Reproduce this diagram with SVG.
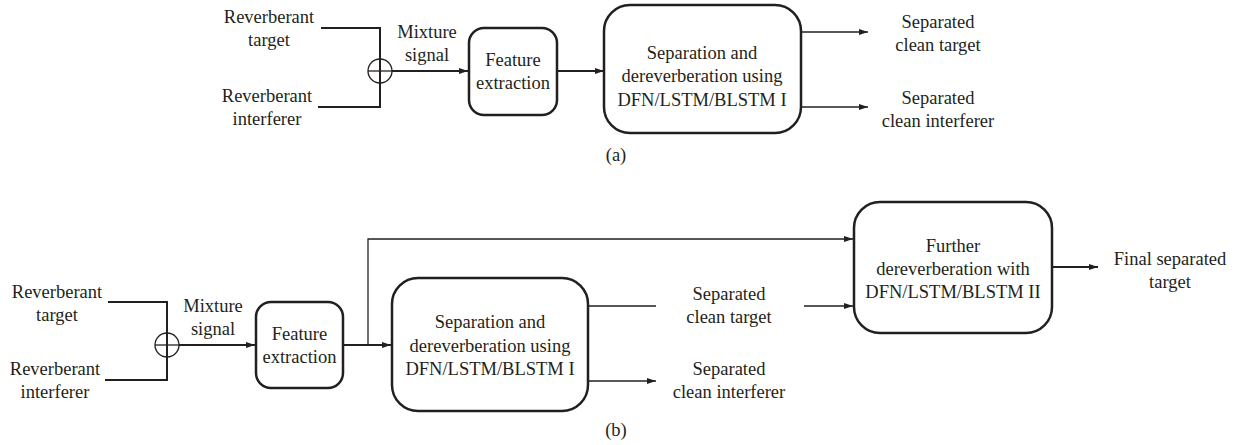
<svg xmlns="http://www.w3.org/2000/svg" width="1240" height="445" viewBox="0 0 1240 445">
<style>
text{font-family:"Liberation Serif","Times New Roman",serif;font-size:18.5px;fill:#231f20;text-anchor:middle}
.box{fill:#fff;stroke:#231f20;stroke-width:2.5}
.ln{fill:none;stroke:#231f20;stroke-width:2}
.thin{fill:none;stroke:#231f20;stroke-width:1.3}
</style>
<defs>
<marker id="ah" markerUnits="userSpaceOnUse" markerWidth="10" markerHeight="8" refX="9" refY="4" orient="auto">
<path d="M0,1 L9,4 L0,7 Z" fill="#231f20"/>
</marker>
</defs>
<g id="connectors">
<path class="ln" d="M321,28 H380 V107 H318"/>
<circle class="thin" cx="380" cy="71" r="12"/>
<line class="thin" x1="368" y1="71" x2="392" y2="71"/>
<line class="ln" x1="392" y1="71" x2="468" y2="71" marker-end="url(#ah)"/>
<line class="ln" x1="557" y1="71" x2="604" y2="71" marker-end="url(#ah)"/>
<line class="thin" x1="801" y1="32" x2="868" y2="32" marker-end="url(#ah)"/>
<line class="thin" x1="801" y1="107" x2="868" y2="107" marker-end="url(#ah)"/>
<path class="ln" d="M108,302 H167 V380 H105"/>
<circle class="thin" cx="167" cy="345" r="12"/>
<line class="thin" x1="155" y1="345" x2="179" y2="345"/>
<line class="ln" x1="179" y1="345" x2="255" y2="345" marker-end="url(#ah)"/>
<line class="ln" x1="343" y1="345" x2="391" y2="345" marker-end="url(#ah)"/>
<path class="thin" d="M368,345 V239 H853" marker-end="url(#ah)"/>
<line class="thin" x1="588" y1="306" x2="656" y2="306"/>
<line class="thin" x1="804" y1="306" x2="853" y2="306" marker-end="url(#ah)"/>
<line class="thin" x1="588" y1="381" x2="656" y2="381" marker-end="url(#ah)"/>
<line class="ln" x1="1052" y1="267" x2="1098" y2="267" marker-end="url(#ah)"/>
</g>
<g id="a-inputs">
<text x="269" y="23">Reverberant</text><text x="269" y="46">target</text>
<text x="267" y="102">Reverberant</text><text x="267" y="125">interferer</text>
<text x="427" y="38">Mixture</text><text x="427" y="61">signal</text>
</g>
<g id="a-feature">
<rect class="box" x="469" y="28" width="88" height="87" rx="15"/>
<text x="513" y="66">Feature</text><text x="513" y="89">extraction</text>
</g>
<g id="a-separation">
<rect class="box" x="604" y="5" width="197" height="128" rx="26"/>
<text x="702" y="59">Separation and</text>
<text x="702" y="82">dereverberation using</text>
<text x="702" y="106">DFN/LSTM/BLSTM I</text>
</g>
<g id="a-outputs">
<text x="938" y="28">Separated</text><text x="938" y="51">clean target</text>
<text x="938" y="104">Separated</text><text x="938" y="127">clean interferer</text>
</g>
<text x="616" y="161">(a)</text>
<g id="b-inputs">
<text x="57" y="298">Reverberant</text><text x="57" y="321">target</text>
<text x="55" y="375">Reverberant</text><text x="55" y="398">interferer</text>
<text x="213" y="312">Mixture</text><text x="213" y="335">signal</text>
</g>
<g id="b-feature">
<rect class="box" x="256" y="302" width="87" height="86" rx="15"/>
<text x="299.5" y="340">Feature</text><text x="299.5" y="363">extraction</text>
</g>
<g id="b-separation">
<rect class="box" x="392" y="278" width="196" height="133" rx="26"/>
<text x="490" y="328">Separation and</text>
<text x="490" y="352">dereverberation using</text>
<text x="490" y="375">DFN/LSTM/BLSTM I</text>
</g>
<g id="b-outputs">
<text x="729" y="300">Separated</text><text x="729" y="323">clean target</text>
<text x="729" y="375">Separated</text><text x="729" y="398">clean interferer</text>
</g>
<g id="b-further">
<rect class="box" x="854" y="202" width="198" height="131" rx="26"/>
<text x="953" y="252">Further</text>
<text x="953" y="275">dereverberation with</text>
<text x="953" y="298">DFN/LSTM/BLSTM II</text>
</g>
<g id="b-final">
<text x="1170" y="265">Final separated</text><text x="1170" y="288">target</text>
</g>
<text x="616" y="436">(b)</text>
</svg>
